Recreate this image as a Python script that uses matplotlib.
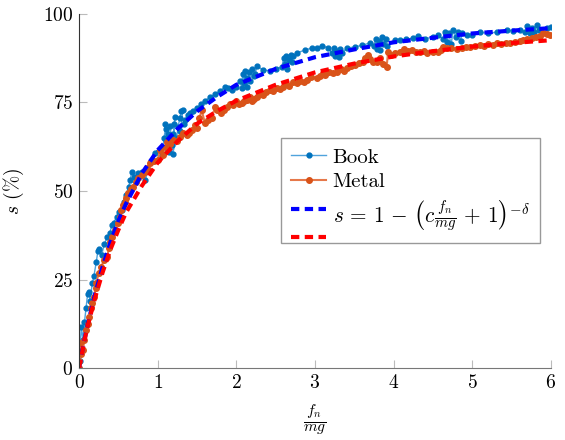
import matplotlib
matplotlib.use('Agg')
import matplotlib.pyplot as plt
from matplotlib.lines import Line2D
from matplotlib.legend_handler import HandlerBase

plt.rcParams['font.family'] = 'serif'
plt.rcParams['font.serif'] = ['cmr10', 'DejaVu Serif']
plt.rcParams['mathtext.fontset'] = 'cm'
plt.rcParams['axes.formatter.use_mathtext'] = True

# measured points, Book
book_x = [0.0, 0.01, 0.01, 0.03, 0.05, 0.07, 0.09, 0.11, 0.13, 0.14, 0.17, 0.19, 0.22, 0.24, 0.26, 0.29,
          0.32, 0.36, 0.39, 0.42, 0.44, 0.48, 0.51, 0.55, 0.57, 0.6, 0.63, 0.65, 0.67, 0.7, 0.75, 0.8,
          0.84, 0.88, 0.92, 0.97, 1.0, 1.04,
          1.07, 1.08, 1.1, 1.09, 1.12, 1.14, 1.13, 1.16, 1.18, 1.2, 1.21, 1.22, 1.19, 1.24, 1.26, 1.28,
          1.3, 1.32, 1.29, 1.33, 1.35, 1.38, 1.41, 1.45, 1.5, 1.55, 1.6, 1.67, 1.73, 1.79, 1.86, 1.9,
          1.95, 2.0, 2.05, 2.07, 2.08, 2.1, 2.11, 2.13, 2.14, 2.16, 2.18, 2.2, 2.22, 2.24, 2.26, 2.34,
          2.43, 2.5, 2.58, 2.6, 2.62, 2.63, 2.65, 2.67, 2.69, 2.71, 2.72, 2.77, 2.87, 2.96, 3.02, 3.09,
          3.16, 3.22, 3.24, 3.26, 3.28, 3.3, 3.32, 3.34, 3.41, 3.51, 3.6, 3.7, 3.75, 3.77, 3.79, 3.81,
          3.83, 3.85, 3.87, 3.9, 3.92, 4.02, 4.08, 4.16, 4.25, 4.31, 4.4, 4.5, 4.56, 4.63, 4.65, 4.68,
          4.7, 4.73, 4.76, 4.79, 4.82, 4.85, 4.87, 4.93, 5.0, 5.1, 5.2, 5.31, 5.44, 5.52, 5.6, 5.67,
          5.7, 5.73, 5.76, 5.79, 5.82, 5.85, 5.95, 6.0]
book_y = [0, 2, 5, 11.5, 8, 13, 17, 21, 21.5, 19, 24, 26, 30, 33, 33.5, 32,
          35, 37, 38, 40.5, 41, 42.7, 44, 44.6, 47, 49, 51, 53, 55.5, 54, 55, 55.5,
          53, 56, 58.5, 60.7, 61, 60.5,
          62, 65, 67.5, 69, 64, 61, 66, 68.5, 63, 66, 69, 71, 60.5, 65, 68, 70.5,
          72.5, 73, 67, 69, 70, 71.5, 72, 72.5, 73.5, 74.5, 75.5, 76.5, 77.4, 78.2, 79.4, 79,
          78.5, 79.5, 81, 79, 83, 80.5, 84, 82, 79.5, 83.5, 81, 84.5, 82.5, 83, 85.3, 84.2,
          83.9, 84.5, 85, 87.5, 86, 88, 84.5, 87, 88.4, 86.5, 88, 89, 89.8, 90.4, 90.4, 91,
          90.5, 89, 90.5, 88, 89.5, 87.8, 90, 89, 90.4, 90.7, 91.2, 91.8, 91, 93, 90, 92.5,
          89.8, 93.5, 91.5, 92.8, 91, 92.7, 92.7, 92.8, 93.2, 93.8, 93, 93.5, 94, 93, 95, 92,
          94.5, 91.5, 95.5, 93.5, 94.8, 92.5, 94.5, 94, 94.2, 94.9, 94.5, 94.9, 95.5, 95.2, 95.5, 95,
          96.5, 94.5, 96, 95, 96.8, 95.5, 96, 96.3]

# measured points, Metal
metal_x = [0.0, 0.0, 0.01, 0.03, 0.05, 0.07, 0.09, 0.11, 0.13, 0.15, 0.17, 0.19, 0.21, 0.22, 0.25, 0.28,
           0.32, 0.34, 0.36, 0.38, 0.39, 0.42, 0.46, 0.49, 0.52, 0.54, 0.56, 0.58, 0.6, 0.62, 0.66, 0.69,
           0.72, 0.75, 0.8, 0.84, 0.87, 0.9, 0.95, 1.0, 1.03, 1.07, 1.1, 1.12, 1.16, 1.2, 1.24, 1.28,
           1.32, 1.37, 1.4, 1.44, 1.47, 1.5, 1.53, 1.56, 1.6, 1.64, 1.69, 1.73, 1.75, 1.8, 1.84, 1.88,
           1.92, 1.96, 2.0, 2.03, 2.07, 2.1, 2.14, 2.18, 2.2, 2.23, 2.26, 2.3, 2.34, 2.38, 2.43, 2.47,
           2.52, 2.56, 2.59, 2.63, 2.67, 2.72, 2.77, 2.81, 2.86, 2.9, 2.95, 3.02, 3.06, 3.1, 3.13, 3.18,
           3.23, 3.28, 3.33, 3.37, 3.41, 3.46, 3.51, 3.56, 3.61, 3.64, 3.67, 3.7, 3.74, 3.79, 3.83, 3.87,
           3.91, 3.93, 3.97, 4.02, 4.08, 4.13, 4.18, 4.23, 4.28, 4.33, 4.38, 4.43, 4.5, 4.56, 4.6, 4.63,
           4.68, 4.73, 4.8, 4.87, 4.92, 4.97, 5.03, 5.1, 5.15, 5.2, 5.26, 5.31, 5.37, 5.43, 5.48, 5.54,
           5.6, 5.65, 5.7, 5.76, 5.81, 5.86, 5.9, 5.95, 5.99]
metal_y = [0, 2, 7, 4, 5, 8, 10.7, 12.5, 14.4, 17, 18.5, 20, 22.5, 24, 26.8, 28.5,
           30.5, 31, 31.4, 34, 35.6, 37, 39, 41, 42.7, 44.5, 46, 47, 48, 49.4, 50.5, 51.1,
           52.5, 53.7, 54.5, 55.4, 56.5, 57.9, 58.5, 58.8, 61.6, 60.2, 62.5, 63.8, 63.2, 64.5, 64, 65.3,
           66.5, 65.8, 66.5, 67.2, 68.6, 67.8, 70.5, 72.9, 69.2, 70, 70.6, 73.7, 72.9, 72, 73, 73.7,
           74.5, 74.3, 75.5, 74.5, 74.9, 75.5, 75.7, 76.5, 75.5, 76, 76.6, 77.5, 77.1, 78, 78.5, 78.2,
           79.1, 78.8, 79.4, 80.2, 79.8, 80.8, 80.5, 81.2, 80.8, 81.4, 82.2, 81.9, 82.5, 83.3, 82.8, 83.5,
           83.2, 83.6, 84.5, 84, 84.7, 85.2, 85.6, 86.2, 86.4, 87.5, 88.4, 87.2, 86.5, 86.4, 87.5, 86,
           85, 89.3, 88.5, 89, 89.3, 90, 89.5, 89.8, 89.2, 89.3, 89.6, 89.1, 89.4, 89.3, 89.8, 90.7,
           90.3, 90.5, 90.1, 90.4, 90.8, 90.6, 91, 91.2, 91, 91.4, 91.3, 91.8, 91.6, 91.9, 91.7, 92.1,
           92.4, 92.6, 92.9, 93.2, 93.5, 93.9, 94.6, 94.3, 94]

# fitted curves
fit_x = [0, 0.05, 0.1, 0.2, 0.3, 0.4, 0.5, 0.6, 0.8, 1.0, 1.25, 1.5, 1.75, 2.0, 2.5, 3.0, 3.5, 4.0,
         4.5, 5.0, 5.5, 6.0]
fit_book = [0, 5.8, 11.3, 20.5, 28.5, 35.5, 41.5, 46.5, 55, 61.5, 67.5, 72.5, 76.5, 80, 84.5, 87.8,
            90, 92, 93.3, 94.5, 95.3, 96]
fit_metal = [0, 5.5, 11, 19.5, 27, 33.5, 39, 44, 51.5, 58, 64, 69, 72.5, 75.5, 80, 83.5, 86, 88,
             89.5, 90.8, 91.8, 92.6]


class TwoDash(HandlerBase):
    # one legend entry, blue dash above and red dash below the label
    def create_artists(self, legend, orig_handle, xdescent, ydescent, width, height, fontsize, trans):
        out = []
        mid = height / 2 - ydescent
        for ln, dy in zip(orig_handle, [0.3 * fontsize, -1.05 * fontsize]):
            l = Line2D([-xdescent, width - xdescent], [mid + dy, mid + dy],
                       color=ln.get_color(), lw=ln.get_linewidth(), linestyle=(0, (2, 1.3)))
            l.set_transform(trans)
            out.append(l)
        return out


fig = plt.figure(figsize=(5.65, 4.4), dpi=100)
ax = fig.add_axes([0.1398, 0.1636, 0.8354, 0.8046])

b, = ax.plot(book_x, book_y, color='#4FA3DC', lw=1.0, marker='o', ms=3.5,
             mfc='#0072BD', mec='#0072BD', label='Book')
m, = ax.plot(metal_x, metal_y, color='#E6784A', lw=1.5, marker='o', ms=4,
             mfc='#D95319', mec='#D95319', label='Metal')
fb, = ax.plot(fit_x, fit_book, color='#0000FF', lw=3, linestyle=(0, (2, 1.3)))
fm, = ax.plot(fit_x, fit_metal, color='#FF0000', lw=3, linestyle=(0, (2, 1.3)))

ax.set_xlim(0, 6)
ax.set_ylim(0, 100)
ax.set_xticks([0, 1, 2, 3, 4, 5, 6])
ax.set_yticks([0, 25, 50, 75, 100])
ax.spines['top'].set_visible(False)
ax.spines['right'].set_visible(False)
ax.spines['left'].set_color('#333333')
ax.spines['bottom'].set_color('#777777')
ax.tick_params(direction='in', length=6, width=0.8, color='#bbbbbb', labelsize=14, pad=4)

ax.set_xlabel(r'$\frac{f_n}{mg}$', fontsize=16, labelpad=8)
ax.set_ylabel(r'$s$ (%)', fontsize=14, labelpad=12)

formula = r'$s\,=\,1\,-\,\left(c\frac{f_n}{mg}\,+\,1\right)^{-\delta}$'
leg = ax.legend([b, m, (fb, fm)], ['Book', 'Metal', formula],
                handler_map={tuple: TwoDash()}, loc='center', bbox_to_anchor=(0.702, 0.502),
                fontsize=15, handlelength=1.7, handletextpad=0.3, fancybox=False, framealpha=1,
                edgecolor='#999999', borderpad=0.5, labelspacing=0.3)
leg.get_texts()[2].set_fontsize(15.3)
leg.get_frame().set_linewidth(1.0)

fig.savefig('out.png', dpi=100)
